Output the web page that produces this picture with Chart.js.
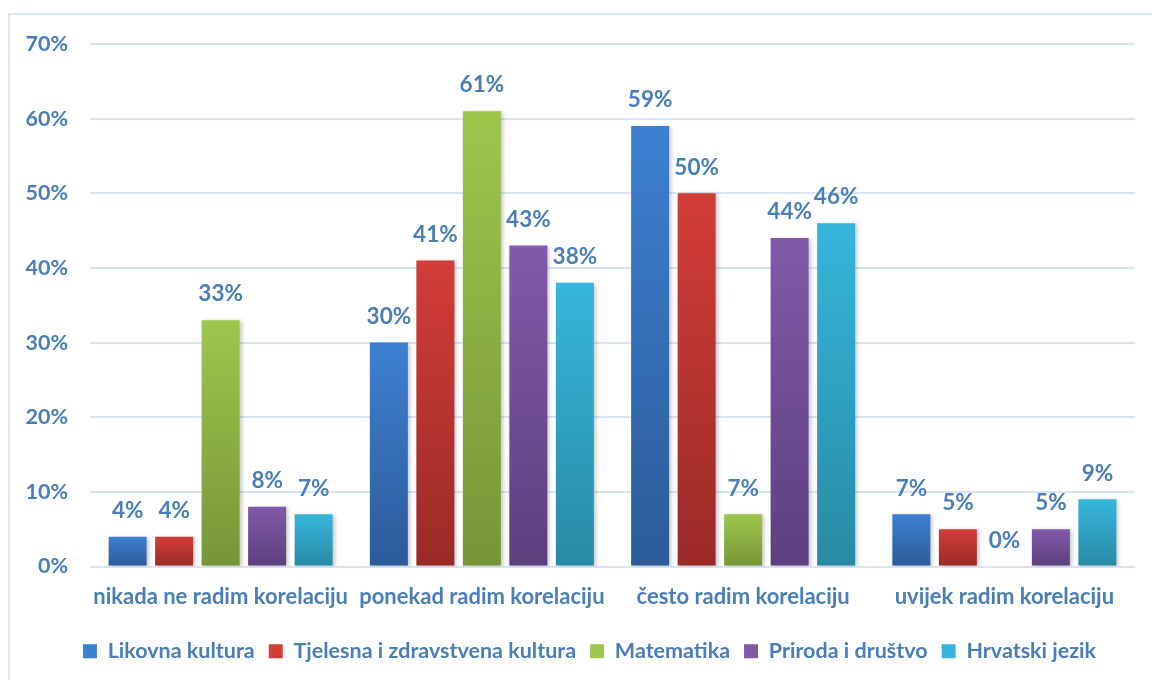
<!DOCTYPE html>
<html><head><meta charset="utf-8">
<script src="https://cdn.jsdelivr.net/npm/chart.js@4/dist/chart.umd.min.js"></script>
<style>html,body{margin:0;padding:0;background:#fff}#wrap{width:1152px;height:680px;position:relative}</style>
</head><body><div id="wrap"><canvas id="c" width="1152" height="680"></canvas></div>
<script>
const categories = ["nikada ne radim korelaciju","ponekad radim korelaciju","često radim korelaciju","uvijek radim korelaciju"];
const seriesNames = ["Likovna kultura","Tjelesna i zdravstvena kultura","Matematika","Priroda i društvo","Hrvatski jezik"];
const likovna = [4,30,59,7];
const tjelesna = [4,41,50,5];
const matematika = [33,61,7,0];
const priroda = [8,43,44,5];
const hrvatski = [7,38,46,9];
const yTicks = [0,10,20,30,40,50,60,70];

const topColors = ["#3d80d2","#d23d38","#9ec64c","#8159a9","#36b6db"];
const botColors = ["#2c5b98","#9a2a27","#779538","#5c3f7d","#288aa5"];
const TEXT = "#4a7dba";
const FONT = "Lato, 'Open Sans', sans-serif";

function grad(ctx, i){
  const chart = ctx.chart;
  if(!chart.chartArea || ctx.type!=='data') return topColors[i];
  const ys = chart.scales.y;
  const v = ctx.raw||0;
  const top = ys.getPixelForValue(v), bot = ys.getPixelForValue(0);
  if (Math.abs(bot-top)<1) return topColors[i];
  const g = chart.ctx.createLinearGradient(0,top,0,bot);
  g.addColorStop(0, topColors[i]); g.addColorStop(1, botColors[i]);
  return g;
}

const all = [likovna,tjelesna,matematika,priroda,hrvatski];
const datasets = all.map((d,i)=>({
  label: seriesNames[i], data: d,
  backgroundColor: (c)=>grad(c,i),
  borderWidth: 0,
  categoryPercentage: 0.89, barPercentage: 0.817
}));

const framePlugin = {
  id:'frame',
  beforeDraw(chart){
    const c = chart.ctx; c.save();
    c.strokeStyle = "#dbe6f3"; c.lineWidth = 2;
    c.beginPath(); c.moveTo(1160,14); c.lineTo(9,14); c.lineTo(9,690); c.stroke();
    c.restore();
  }
};
const legendShift = {
  id:'legendShift',
  afterLayout(chart){ if(chart.legend){ chart.legend.left += 22; chart.legend.right += 22; } }
};
const shadowPlugin = {
  id:'shadow',
  beforeDatasetsDraw(chart){ const c=chart.ctx; c.save(); c.shadowColor='rgba(0,0,0,0.22)'; c.shadowBlur=4; c.shadowOffsetX=2; c.shadowOffsetY=1; },
  afterDatasetsDraw(chart){ chart.ctx.restore(); }
};
const labelPlugin = {
  id:'vlabels',
  afterDatasetsDraw(chart){
    const c = chart.ctx; c.save();
    c.font = "bold 22.5px " + FONT; c.fillStyle = TEXT; c.textAlign='center'; c.textBaseline='middle';
    chart.data.datasets.forEach((ds,di)=>{
      const meta = chart.getDatasetMeta(di);
      meta.data.forEach((bar,j)=>{
        c.fillText(ds.data[j]+"%", bar.x, bar.y - 26);
      });
    });
    c.restore();
  }
};

new Chart(document.getElementById('c'), {
  type:'bar',
  data:{ labels: categories, datasets },
  options:{
    responsive:false, animation:false,
    layout:{ padding:{ top:44, right:17, left:0, bottom:8 } },
    plugins:{
      legend:{ position:'bottom', labels:{ color:TEXT, font:{family:FONT, size:21.5, weight:'bold'}, boxWidth:14, boxHeight:14, padding:14,
        generateLabels(chart){ return seriesNames.map((n,i)=>({text:n, fillStyle:topColors[i], strokeStyle:topColors[i], lineWidth:0, fontColor:TEXT, datasetIndex:i})); } } },
      tooltip:{enabled:false}
    },
    scales:{
      x:{ grid:{display:false}, border:{display:false},
          ticks:{ color:TEXT, font:{family:FONT, size:22, weight:'bold'}, padding:9 },
          afterFit(s){ s.height = 60; } },
      y:{ min:0, max:70, afterBuildTicks(s){ s.ticks = yTicks.map(v=>({value:v})); },
          grid:{ color:"#d9e4f2", lineWidth:2, drawTicks:false }, border:{display:false},
          ticks:{ color:TEXT, font:{family:FONT, size:21.5, weight:'bold'}, padding:22, callback:v=>v+"%" },
          afterFit(s){ s.width = 90; } }
    }
  },
  plugins:[framePlugin, legendShift, shadowPlugin, labelPlugin]
});
</script></body></html>
